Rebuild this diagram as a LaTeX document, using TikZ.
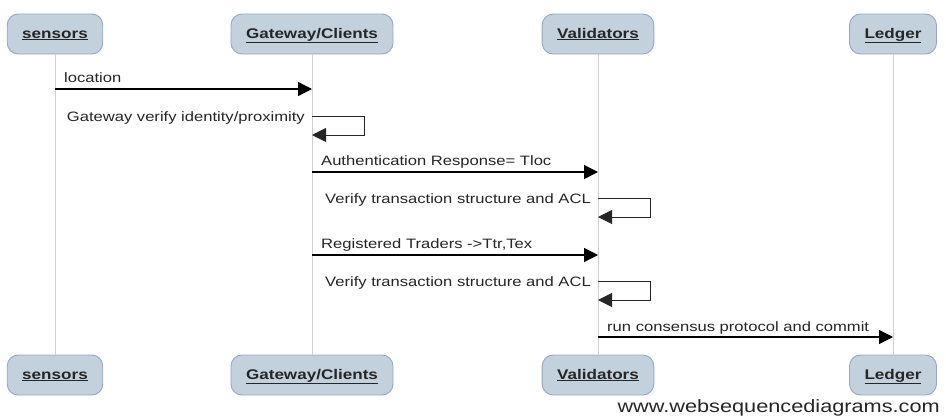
\documentclass[tikz,border=0pt]{standalone}
\usepackage{fontspec}
\setmainfont{Liberation Sans}[FakeStretch=1.22]
\usetikzlibrary{arrows.meta,calc}
\definecolor{boxfill}{HTML}{C3D1DD}
\definecolor{boxline}{HTML}{93A8C8}
\definecolor{lifegray}{HTML}{D0D0D0}
\tikzset{
  actor/.style={draw=boxline, fill=boxfill, line width=0.9pt, rounded corners=11pt,
    minimum height=40pt, inner xsep=15pt, text height=11pt, text depth=3pt,
    font=\fontsize{14}{16}\selectfont\bfseries, text=black!85},
  lifeline/.style={draw=lifegray, line width=1pt},
  msg/.style={draw=black, line width=1.3pt, -{Triangle[length=14pt,width=14pt]}},
  selfmsg/.style={draw=black!85, line width=1pt, -{Triangle[length=14pt,width=14pt]}},
  lbl/.style={font=\fontsize{13.6}{15}\selectfont, text=black!85, inner sep=0pt},
}
\newcommand{\actorname}[1]{\underline{#1}}
\begin{document}
\begin{tikzpicture}[x=1pt,y=-1pt]
\useasboundingbox (0,0) rectangle (946,418);

% participants, top row
\node[actor] (s1) at (55,34)  {\actorname{sensors}};
\node[actor] (g1) at (312,34) {\actorname{Gateway/Clients}};
\node[actor] (v1) at (598,34) {\actorname{Validators}};
\node[actor] (l1) at (893,34) {\actorname{Ledger}};
% participants, bottom row
\node[actor] (s2) at (55,375)  {\actorname{sensors}};
\node[actor] (g2) at (312,375) {\actorname{Gateway/Clients}};
\node[actor] (v2) at (598,375) {\actorname{Validators}};
\node[actor] (l2) at (893,375) {\actorname{Ledger}};

% lifelines
\draw[lifeline] (s1) -- (s2);
\draw[lifeline] (g1) -- (g2);
\draw[lifeline] (v1) -- (v2);
\draw[lifeline] (l1) -- (l2);

% points on the lifelines where messages start and end
\coordinate (sA) at (s1 |- 0,89);
\coordinate (gA) at (g1 |- 0,89);
\coordinate (gB) at (g1 |- 0,116);
\coordinate (gC) at (g1 |- 0,135);
\coordinate (gD) at (g1 |- 0,172);
\coordinate (vD) at (v1 |- 0,172);
\coordinate (vE) at (v1 |- 0,198);
\coordinate (vF) at (v1 |- 0,217);
\coordinate (gG) at (g1 |- 0,255);
\coordinate (vG) at (v1 |- 0,255);
\coordinate (vH) at (v1 |- 0,281);
\coordinate (vI) at (v1 |- 0,300);
\coordinate (vJ) at (v1 |- 0,337);
\coordinate (lJ) at (l1 |- 0,337);

% messages
\draw[msg] (sA) -- (gA);
\node[lbl, anchor=base west] (t1) at ($(sA)+(9,-7)$) {location};

\draw[selfmsg] (gB) -- ++(52,0) |- (gC);
\node[lbl, anchor=base east] (t2) at ($(gB)+(-7,5)$) {Gateway verify identity/proximity};

\draw[msg] (gD) -- (vD);
\node[lbl, anchor=base west] (t3) at ($(gD)+(9,-7)$) {Authentication Response= Tloc};

\draw[selfmsg] (vE) -- ++(52,0) |- (vF);
\node[lbl, anchor=base east] (t4) at ($(vE)+(-7,5)$) {Verify transaction structure and ACL};

\draw[msg] (gG) -- (vG);
\node[lbl, anchor=base west] (t5) at ($(gG)+(9,-7)$) {Registered Traders ->Ttr,Tex};

\draw[selfmsg] (vH) -- ++(52,0) |- (vI);
\node[lbl, anchor=base east] (t6) at ($(vH)+(-7,5)$) {Verify transaction structure and ACL};

\draw[msg] (vJ) -- (lJ);
\node[lbl, anchor=base west] (t7) at ($(vJ)+(9,-6)$) {run consensus protocol and commit};

% watermark
\node[font=\fontsize{17.8}{20}\selectfont, text=black!85, anchor=base east, inner sep=0pt] (wm) at (940,412) {www.websequencediagrams.com};
\end{tikzpicture}
\end{document}
